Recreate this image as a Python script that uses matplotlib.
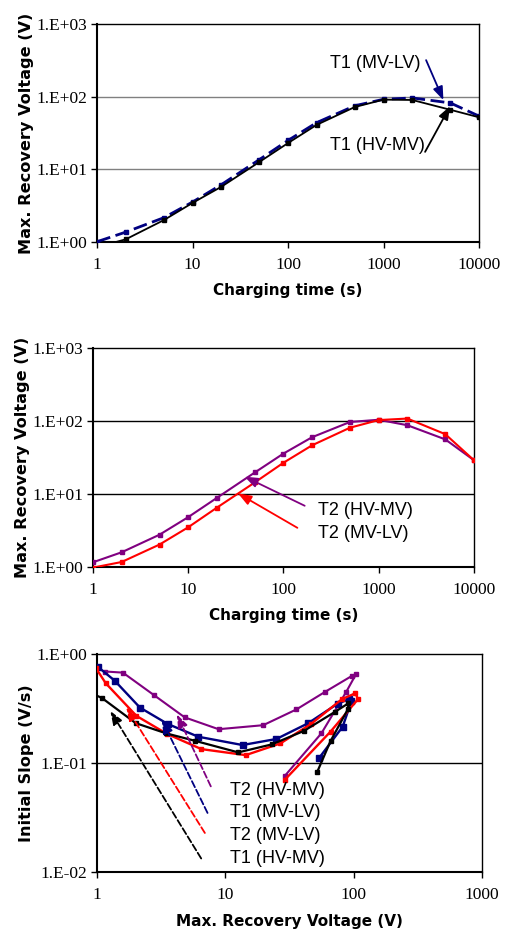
import matplotlib

matplotlib.use("Agg")
import matplotlib.pyplot as plt

# tiempos de carga (s), comunes a todas las series
CHARGE_TIME = [1, 2, 5, 10, 20, 50, 100, 200, 500, 1000, 2000, 5000, 10000]

# tension maxima de recuperacion (V) por transformador / devanado
VR_T1_MVLV = [1.01, 1.37, 2.16, 3.55, 6.15, 13.6, 25, 44, 75, 92, 96, 82, 54]
VR_T1_HVMV = [0.85, 1.09, 2.0, 3.45, 5.75, 12.6, 23, 41, 72, 91, 90, 66, 52]
VR_T2_HVMV = [1.16, 1.59, 2.77, 4.82, 8.85, 19.7, 35.8, 60, 97, 104, 87.5, 56, 29]
VR_T2_MVLV = [0.98, 1.17, 2.03, 3.5, 6.5, 14.4, 26.8, 46.5, 81, 103, 108, 66, 29]

# pendiente inicial (V/s)
SL_T1_MVLV = [0.765, 0.57, 0.322, 0.228, 0.174, 0.146, 0.166, 0.231, 0.35, 0.385, 0.37, 0.215, 0.112]
SL_T1_HVMV = [0.45, 0.395, 0.232, 0.187, 0.16, 0.125, 0.148, 0.197, 0.296, 0.353, 0.311, 0.159, 0.083]
SL_T2_HVMV = [0.69, 0.674, 0.42, 0.262, 0.204, 0.222, 0.31, 0.45, 0.63, 0.65, 0.45, 0.187, 0.076]
SL_T2_MVLV = [0.74, 0.538, 0.27, 0.185, 0.134, 0.118, 0.151, 0.228, 0.385, 0.436, 0.385, 0.194, 0.07]

NAVY = "#000080"
PURPLE = "#800080"
RED = "#ff0000"

TICK_FONT = dict(family="Liberation Serif", size=12.5)
LABEL_FONT = dict(family="DejaVu Sans", weight="bold", size=11)
YLABEL_FONT = dict(family="DejaVu Sans", weight="bold", size=11.6)
NOTE_FONT = dict(family="Liberation Sans", size=13)


def style_axes(ax, xlim, ylim, xticks, yticks, ylabels, grid_color):
    ax.set_xscale("log")
    ax.set_yscale("log")
    ax.set_xlim(*xlim)
    ax.set_ylim(*ylim)
    ax.set_xticks(xticks)
    ax.set_xticklabels([str(t) for t in xticks], **TICK_FONT)
    ax.set_yticks(yticks)
    ax.set_yticklabels(ylabels, **TICK_FONT)
    ax.minorticks_off()
    ax.tick_params(direction="out", length=4, width=1, pad=3)
    ax.tick_params(axis="x", pad=7)
    for t in yticks[1:-1]:
        ax.axhline(t, color=grid_color, lw=1, zorder=0)
    for s in ax.spines.values():
        s.set_linewidth(1)
    ax.spines["left"].set_linewidth(1.5)
    ax.spines["bottom"].set_linewidth(1.5)


def arrow(ax, tail, head, color, ls="-"):
    ax.annotate("", xy=head, xytext=tail,
                arrowprops=dict(arrowstyle="-|>,head_length=0.8,head_width=0.3",
                                color=color, lw=1.3, linestyle=ls,
                                shrinkA=0, shrinkB=0))


fig = plt.figure(figsize=(5.08, 9.33), dpi=100)

# --- panel 1: T1 ---
ax1 = fig.add_axes([0.191, 0.7406, 0.752, 0.2337])
ax1.plot(CHARGE_TIME, VR_T1_MVLV, color=NAVY, lw=2, ls=(0, (5, 2)),
         marker="s", ms=3.5, zorder=3)
ax1.plot(CHARGE_TIME, VR_T1_HVMV, color="black", lw=1.3,
         marker="s", ms=3.5, zorder=3)
style_axes(ax1, (1, 10000), (1, 1000), [1, 10, 100, 1000, 10000],
           [1, 10, 100, 1000], ["1.E+00", "1.E+01", "1.E+02", "1.E+03"], "#808080")
ax1.text(2415, 287, "T1 (MV-LV)", ha="right", va="center", **NOTE_FONT)
ax1.text(2720, 21, "T1 (HV-MV)", ha="right", va="center", **NOTE_FONT)
arrow(ax1, (2790, 318), (4236, 89.6), NAVY)
arrow(ax1, (2723, 17.4), (4975, 74), "black")
ax1.set_xlabel("Charging time (s)", labelpad=7, **LABEL_FONT)
ax1.set_ylabel("Max. Recovery Voltage (V)", labelpad=2, **YLABEL_FONT)

# --- panel 2: T2 ---
ax2 = fig.add_axes([0.183, 0.3923, 0.75, 0.2347])
ax2.plot(CHARGE_TIME, VR_T2_HVMV, color=PURPLE, lw=1.5,
         marker="s", ms=2.8, zorder=3)
ax2.plot(CHARGE_TIME, VR_T2_MVLV, color=RED, lw=1.5,
         marker="s", ms=2.8, zorder=3)
style_axes(ax2, (1, 10000), (1, 1000), [1, 10, 100, 1000, 10000],
           [1, 10, 100, 1000], ["1.E+00", "1.E+01", "1.E+02", "1.E+03"], "black")
ax2.text(230, 6.0, "T2 (HV-MV)", ha="left", va="center", **NOTE_FONT)
ax2.text(230, 2.87, "T2 (MV-LV)", ha="left", va="center", **NOTE_FONT)
arrow(ax2, (167, 6.9), (39, 17.3), PURPLE)
arrow(ax2, (140, 3.44), (33.3, 10.2), RED)
ax2.set_xlabel("Charging time (s)", labelpad=7, **LABEL_FONT)
ax2.set_ylabel("Max. Recovery Voltage (V)", labelpad=2, **YLABEL_FONT)

# --- panel 3: pendiente inicial vs tension maxima ---
ax3 = fig.add_axes([0.191, 0.0654, 0.758, 0.2337])
ax3.plot(VR_T2_HVMV, SL_T2_HVMV, color=PURPLE, lw=1.5, marker="s", ms=2.8, zorder=3)
ax3.plot(VR_T1_MVLV, SL_T1_MVLV, color=NAVY, lw=1.7, marker="s", ms=4, zorder=3)
ax3.plot(VR_T2_MVLV, SL_T2_MVLV, color=RED, lw=1.7, marker="s", ms=3.5, zorder=3)
ax3.plot(VR_T1_HVMV, SL_T1_HVMV, color="black", lw=1.6, marker="s", ms=3, zorder=3)
style_axes(ax3, (1, 1000), (0.01, 1), [1, 10, 100, 1000],
           [0.01, 0.1, 1], ["1.E-02", "1.E-01", "1.E+00"], "black")
ax3.text(10.9, 0.0563, "T2 (HV-MV)", ha="left", va="center", **NOTE_FONT)
ax3.text(10.9, 0.0348, "T1 (MV-LV)", ha="left", va="center", **NOTE_FONT)
ax3.text(10.9, 0.0217, "T2 (MV-LV)", ha="left", va="center", **NOTE_FONT)
ax3.text(10.9, 0.0133, "T1 (HV-MV)", ha="left", va="center", **NOTE_FONT)
arrow(ax3, (7.7, 0.061), (4.19, 0.279), PURPLE, "--")
arrow(ax3, (7.26, 0.0348), (3.2, 0.248), NAVY, "--")
arrow(ax3, (6.92, 0.0228), (1.69, 0.324), RED, "--")
arrow(ax3, (6.48, 0.0133), (1.27, 0.30), "black", "--")
ax3.set_xlabel("Max. Recovery Voltage (V)", labelpad=8, **LABEL_FONT)
ax3.set_ylabel("Initial Slope (V/s)", labelpad=2, **YLABEL_FONT)

fig.savefig("out.png", dpi=100)
plt.close(fig)
